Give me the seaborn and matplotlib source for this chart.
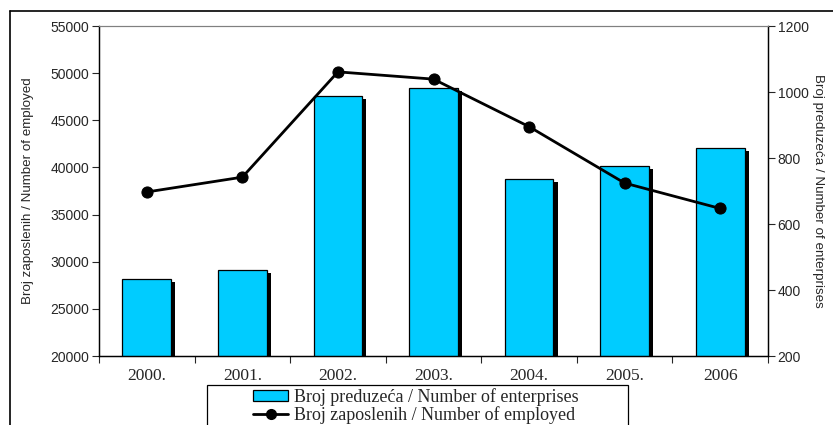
import numpy as np
import pandas as pd
import matplotlib
matplotlib.use("Agg")
import matplotlib.pyplot as plt
import matplotlib.patheffects as pe
from matplotlib.lines import Line2D
from matplotlib.patches import Patch, Rectangle
import seaborn as sns

years = ["2000.", "2001.", "2002.", "2003.", "2004.", "2005.", "2006"]
bar_values = [28170, 29130, 47600, 48400, 38760, 40100, 42080]   # left axis
line_values = [697, 742, 1061, 1039, 895, 724, 647]               # right axis

bar_label = "Broj preduzeća / Number of enterprises"
line_label = "Broj zaposlenih / Number of employed"
left_title = "Broj zaposlenih / Number of employed"
right_title = "Broj preduzeća / Number of enterprises"

sns.set_style("white")
plt.rcParams["font.family"] = ["Liberation Sans", "DejaVu Sans"]

df = pd.DataFrame({"year": years, "bars": bar_values, "line": line_values})

fig = plt.figure(figsize=(8.33, 4.25), dpi=100)
ax = fig.add_axes([99 / 833, 1 - 356 / 425, 669 / 833, 330 / 425])

# bars with a hard black drop shadow
sns.barplot(data=df, x="year", y="bars", color="#00CCFF", saturation=1,
            width=0.51, edgecolor="black", linewidth=0.9, ax=ax)
for p in ax.patches:
    p.set_path_effects([pe.SimplePatchShadow(offset=(3, -2), shadow_rgbFace="black", alpha=1),
                        pe.Normal()])

ax.set_ylim(20000, 55000)
ax.set_yticks(np.arange(20000, 55001, 5000))
ax.set_xlim(-0.5, 6.5)
ax.set_xlabel("")
ax.set_ylabel(left_title, fontsize=9.6, labelpad=12)
ax.tick_params(axis="y", which="major", direction="out", length=5, width=0.8,
               labelsize=10, left=True, pad=2)
ax.set_xticks(range(len(years)))
ax.set_xticklabels(years, fontfamily="Liberation Serif", fontsize=12.5)
ax.tick_params(axis="x", which="major", length=0, pad=9)
ax.set_xticks(np.arange(-0.5, 7, 1), minor=True)
ax.tick_params(axis="x", which="minor", direction="out", length=5, width=0.8, bottom=True)

# line on the right axis
ax2 = ax.twinx()
sns.lineplot(data=df, x="year", y="line", color="black", linewidth=2, marker="o",
             markersize=8, markeredgecolor="black", ax=ax2, legend=False)
ax2.set_ylim(200, 1200)
ax2.set_yticks(np.arange(200, 1201, 200))
ax2.set_ylabel(right_title, fontsize=9.6, rotation=270, labelpad=11)
ax2.tick_params(axis="y", direction="out", length=5, width=0.8, labelsize=10, right=True, pad=2)
ax2.set_xlim(-0.5, 6.5)

for a in (ax, ax2):
    for s in ("left", "bottom", "right"):
        a.spines[s].set_color("black")
        a.spines[s].set_linewidth(0.9)
    a.spines["top"].set_color("#808080")
    a.spines["top"].set_linewidth(0.8)
    a.grid(False)

# legend below the chart: box drawn separately, runs off the bottom edge
fig.add_artist(Rectangle((207 / 833, -0.1), (628 - 207) / 833, 0.1 + (425 - 385) / 425,
                         transform=fig.transFigure, facecolor="white", edgecolor="black",
                         linewidth=0.9))
handles = [Patch(facecolor="#00CCFF", edgecolor="black", linewidth=0.9),
           Line2D([], [], color="black", linewidth=2, marker="o", markersize=7)]
leg = fig.legend(handles, [bar_label, line_label], loc="upper left",
                 bbox_to_anchor=(253 / 833, 1 - 388 / 425), frameon=False,
                 prop={"family": "Liberation Serif", "size": 13}, borderpad=0,
                 labelspacing=0.0, handlelength=1.95, handleheight=0.6,
                 handletextpad=0.3, borderaxespad=0)

# outer chart-area border (cropped)
fig.add_artist(Line2D([10 / 833, 1], [1 - 11 / 425, 1 - 11 / 425], color="black", linewidth=1.2))
fig.add_artist(Line2D([10 / 833, 10 / 833], [1 - 11 / 425, 0], color="black", linewidth=1.2))

fig.savefig("out.png", dpi=100)
